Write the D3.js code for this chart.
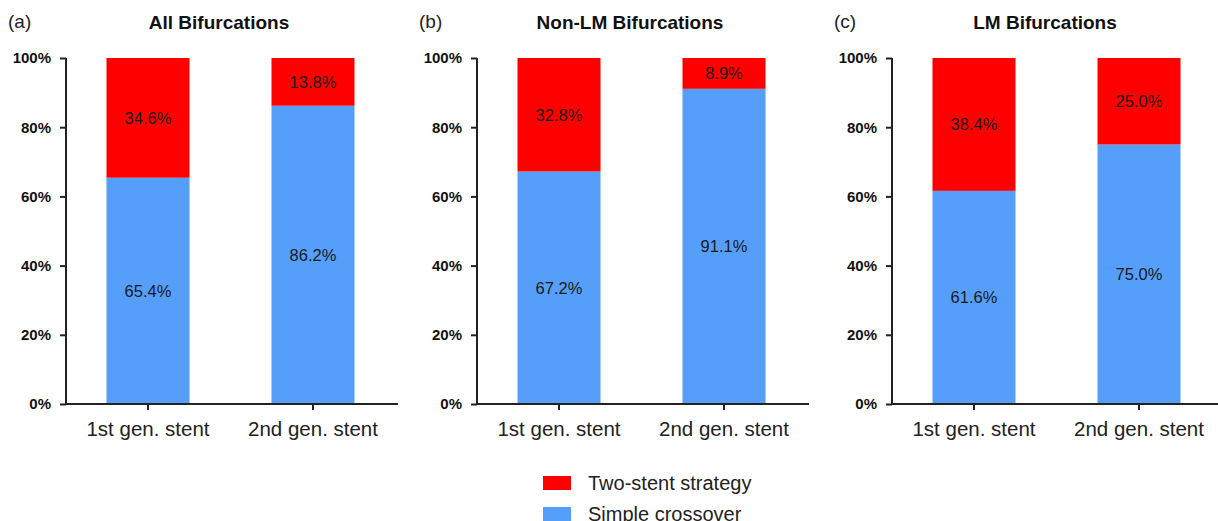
<!DOCTYPE html>
<html>
<head>
<meta charset="utf-8">
<script src="https://cdn.jsdelivr.net/npm/d3@7"></script>
<style>
  html, body { margin: 0; padding: 0; background: #fff; }
  svg { display: block; font-family: "Liberation Sans", Arial, sans-serif; }
</style>
</head>
<body>
<svg id="chart" width="1218" height="521"></svg>
<script>
// Panels and their data (percent of procedures)
const panelTags = ["(a)", "(b)", "(c)"];
const panelTitles = ["All Bifurcations", "Non-LM Bifurcations", "LM Bifurcations"];
const categories = ["1st gen. stent", "2nd gen. stent"];
const simpleCrossover = [[65.4, 86.2], [67.2, 91.1], [61.6, 75.0]];
const twoStent = [[34.6, 13.8], [32.8, 8.9], [38.4, 25.0]];
const yTicks = [0, 20, 40, 60, 80, 100];
const seriesNames = ["Two-stent strategy", "Simple crossover"];
const seriesColors = ["#ff0000", "#559ffb"];

const svg = d3.select("#chart");
const axisLeftX = [66, 477, 892];
const plotWidth = 332;
const plotTop = 58, plotBottom = 404;
const barW = 83;

const y = d3.scaleLinear().domain([0, 100]).range([plotBottom, plotTop]);

panelTags.forEach((tag, p) => {
  const x0 = axisLeftX[p];
  const g = svg.append("g");

  // category centres within the panel
  const x = d3.scalePoint()
    .domain(categories)
    .range([x0 + 82, x0 + 247]);

  // panel tag and title
  g.append("text").attr("x", x0 - 58).attr("y", 28)
    .attr("font-size", 19).attr("fill", "#222").text(tag);
  g.append("text").attr("x", x0 + 153).attr("y", 29)
    .attr("text-anchor", "middle").attr("font-size", 19).attr("font-weight", "bold")
    .attr("fill", "#111").text(panelTitles[p]);

  // stacked bars
  categories.forEach((c, i) => {
    const s = simpleCrossover[p][i];
    const t = twoStent[p][i];
    const left = x(c) - barW / 2;
    g.append("rect").attr("x", left).attr("width", barW)
      .attr("y", y(s)).attr("height", y(0) - y(s))
      .attr("fill", seriesColors[1]);
    g.append("rect").attr("x", left).attr("width", barW)
      .attr("y", y(s + t)).attr("height", y(s) - y(s + t))
      .attr("fill", seriesColors[0]);
    g.append("text").attr("x", x(c)).attr("y", y(s / 2)).attr("dy", "0.35em")
      .attr("text-anchor", "middle").attr("font-size", 16.5).attr("fill", "#1a1a1a")
      .text(s.toFixed(1) + "%");
    g.append("text").attr("x", x(c)).attr("y", y(s + t / 2)).attr("dy", "0.35em")
      .attr("text-anchor", "middle").attr("font-size", 16.5).attr("fill", "#1a1a1a")
      .text(t.toFixed(1) + "%");
  });

  // y axis
  const yAxis = g.append("g").attr("transform", `translate(${x0},0)`)
    .call(d3.axisLeft(y).tickValues(yTicks).tickFormat(d => d + "%").tickSize(6).tickPadding(9));
  yAxis.select(".domain").attr("stroke", "#222").attr("stroke-width", 2).attr("d", `M0,${plotTop}V${plotBottom}`);
  yAxis.selectAll(".tick line").attr("stroke", "#222").attr("stroke-width", 2);
  yAxis.selectAll(".tick text").attr("font-size", 15).attr("font-weight", "bold")
    .attr("fill", "#111").attr("font-family", "Liberation Sans, Arial, sans-serif");

  // x axis
  const xAxisG = g.append("g").attr("transform", `translate(0,${plotBottom})`);
  xAxisG.append("line").attr("x1", x0 - 1).attr("x2", x0 + plotWidth)
    .attr("stroke", "#222").attr("stroke-width", 2);
  categories.forEach(c => {
    xAxisG.append("line").attr("x1", x(c)).attr("x2", x(c)).attr("y1", 0).attr("y2", 6)
      .attr("stroke", "#222").attr("stroke-width", 2);
    xAxisG.append("text").attr("x", x(c)).attr("y", 32)
      .attr("text-anchor", "middle").attr("font-size", 20.5).attr("fill", "#222").text(c);
  });
});

// legend
const legend = svg.append("g");
seriesNames.forEach((name, i) => {
  const ly = 476 + i * 31;
  legend.append("rect").attr("x", 543).attr("y", ly).attr("width", 28).attr("height", 14)
    .attr("fill", seriesColors[i]);
  legend.append("text").attr("x", 588).attr("y", ly + 14)
    .attr("font-size", 20).attr("fill", "#222").text(name);
});
</script>
</body>
</html>
